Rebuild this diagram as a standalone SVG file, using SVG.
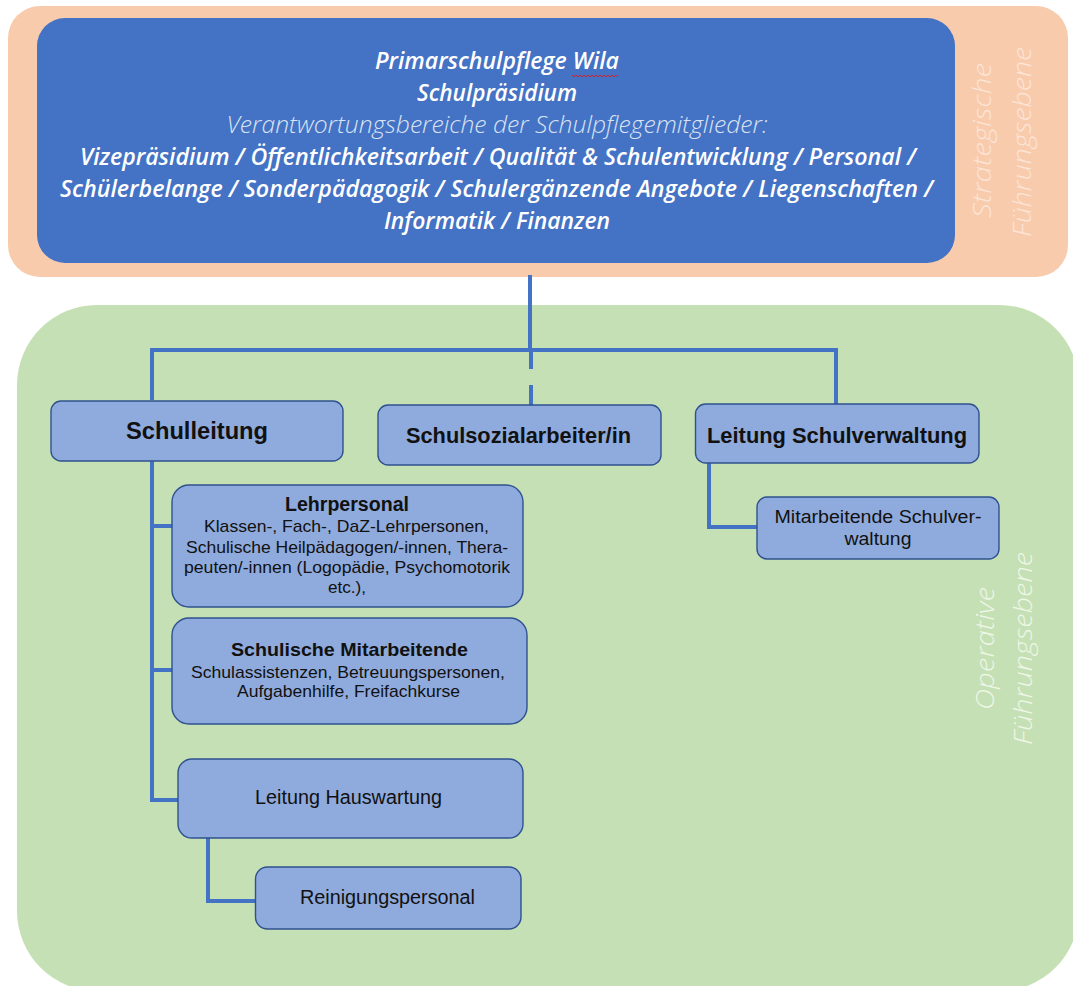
<svg xmlns="http://www.w3.org/2000/svg" width="1073" height="986" viewBox="0 0 1073 986">
<style>
.node rect{fill:#8FAADC;stroke:#2F528F;stroke-width:1.4}
.t{font-family:"Liberation Sans",Arial,sans-serif;fill:#111;text-anchor:middle}
.b{font-weight:bold}
.top{font-family:"Open Sans","Noto Sans",sans-serif;font-style:italic;text-anchor:middle;font-size:23px}
.side{font-family:"Open Sans","Noto Sans",sans-serif;font-style:italic;font-weight:300;font-size:25px;text-anchor:middle}
.conn{fill:none;stroke:#4472C4;stroke-width:4;stroke-linejoin:miter}
</style>
<rect width="1073" height="986" fill="#FFFFFF"/>
<g id="strategic-zone">
<rect x="8" y="6" width="1060" height="271" rx="32" fill="#F8CBAD"/>
<text class="side" fill="#FCE4D6" transform="translate(991,140.5) rotate(-90)" textLength="155" lengthAdjust="spacingAndGlyphs">Strategische</text>
<text class="side" fill="#FCE4D6" transform="translate(1031,142) rotate(-90)" textLength="190" lengthAdjust="spacingAndGlyphs">Führungsebene</text>
</g>
<g id="operative-zone">
<rect x="17" y="305" width="1062" height="686" rx="80" fill="#C5E0B4"/>
<text class="side" fill="#EEF6E8" transform="translate(994,648.5) rotate(-90)" textLength="123" lengthAdjust="spacingAndGlyphs">Operative</text>
<text class="side" fill="#EEF6E8" transform="translate(1032,648.5) rotate(-90)" textLength="193" lengthAdjust="spacingAndGlyphs">Führungsebene</text>
</g>
<g id="connectors">
<path class="conn" d="M530 275 V350"/>
<path class="conn" d="M152 400 V350 H836 V404"/>
<path class="conn" d="M531 350 V369 M531 385 V405"/>
<path class="conn" d="M152 461 V800 H178"/>
<path class="conn" d="M152 526 H172"/>
<path class="conn" d="M152 670 H172"/>
<path class="conn" d="M208 838 V901 H256"/>
<path class="conn" d="M709 463 V527 H757"/>
</g>
<g id="schulpflege">
<rect x="37" y="18" width="918" height="245" rx="28" fill="#4472C4"/>
<text class="top" x="497" y="69" fill="#FFFFFF" font-weight="600" textLength="244" lengthAdjust="spacingAndGlyphs">Primarschulpflege Wila</text>
<path d="M572 75 l2 2 l2 -2 l2 2 l2 -2 l2 2 l2 -2 l2 2 l2 -2 l2 2 l2 -2 l2 2 l2 -2 l2 2 l2 -2 l2 2 l2 -2 l2 2 l2 -2 l2 2 l2 -2 l2 2 l2 -2 l2 2" fill="none" stroke="#D0202A" stroke-width="1"/>
<text class="top" x="497" y="101" fill="#FFFFFF" font-weight="600" textLength="160" lengthAdjust="spacingAndGlyphs">Schulpräsidium</text>
<text class="top" x="497" y="133" fill="#DAE3F3" font-weight="300" textLength="541" lengthAdjust="spacingAndGlyphs">Verantwortungsbereiche der Schulpflegemitglieder:</text>
<text class="top" x="498" y="165" fill="#FFFFFF" font-weight="600" textLength="836" lengthAdjust="spacingAndGlyphs">Vizepräsidium / Öffentlichkeitsarbeit / Qualität &amp; Schulentwicklung / Personal /</text>
<text class="top" x="496.5" y="197" fill="#FFFFFF" font-weight="600" textLength="873" lengthAdjust="spacingAndGlyphs">Schülerbelange / Sonderpädagogik / Schulergänzende Angebote / Liegenschaften /</text>
<text class="top" x="497" y="229" fill="#FFFFFF" font-weight="600" textLength="226" lengthAdjust="spacingAndGlyphs">Informatik / Finanzen</text>
</g>
<g id="schulleitung" class="node">
<rect x="51" y="401" width="292" height="60" rx="10"/>
<text class="t b" x="197" y="439" font-size="23" textLength="142" lengthAdjust="spacingAndGlyphs">Schulleitung</text>
</g>
<g id="schulsozialarbeit" class="node">
<rect x="378" y="405" width="283" height="60" rx="10"/>
<text class="t b" x="518.5" y="443" font-size="22" textLength="225" lengthAdjust="spacingAndGlyphs">Schulsozialarbeiter/in</text>
</g>
<g id="leitung-schulverwaltung" class="node">
<rect x="695.5" y="404" width="283.5" height="59" rx="10"/>
<text class="t b" x="837" y="443" font-size="22" textLength="260" lengthAdjust="spacingAndGlyphs">Leitung Schulverwaltung</text>
</g>
<g id="mitarbeitende-schulverwaltung" class="node">
<rect x="757" y="497" width="242" height="62" rx="10"/>
<text class="t" x="878" y="523" font-size="17.5" textLength="207" lengthAdjust="spacingAndGlyphs">Mitarbeitende Schulver-</text>
<text class="t" x="878" y="545" font-size="17.5" textLength="67" lengthAdjust="spacingAndGlyphs">waltung</text>
</g>
<g id="lehrpersonal" class="node">
<rect x="172" y="485" width="351" height="122" rx="17"/>
<text class="t b" x="347" y="511" font-size="19.5" textLength="124" lengthAdjust="spacingAndGlyphs">Lehrpersonal</text>
<text class="t" x="346.5" y="532" font-size="17" textLength="285" lengthAdjust="spacingAndGlyphs">Klassen-, Fach-, DaZ-Lehrpersonen,</text>
<text class="t" x="347" y="553" font-size="17" textLength="322" lengthAdjust="spacingAndGlyphs">Schulische Heilpädagogen/-innen, Thera-</text>
<text class="t" x="347" y="573" font-size="17" textLength="326" lengthAdjust="spacingAndGlyphs">peuten/-innen (Logopädie, Psychomotorik</text>
<text class="t" x="347" y="593" font-size="17" textLength="38" lengthAdjust="spacingAndGlyphs">etc.),</text>
</g>
<g id="schulische-mitarbeitende" class="node">
<rect x="172" y="618" width="355" height="106" rx="17"/>
<text class="t b" x="349.5" y="656" font-size="19" textLength="237" lengthAdjust="spacingAndGlyphs">Schulische Mitarbeitende</text>
<text class="t" x="348" y="678" font-size="17" textLength="314" lengthAdjust="spacingAndGlyphs">Schulassistenzen, Betreuungspersonen,</text>
<text class="t" x="348.5" y="697" font-size="17" textLength="223" lengthAdjust="spacingAndGlyphs">Aufgabenhilfe, Freifachkurse</text>
</g>
<g id="leitung-hauswartung" class="node">
<rect x="178" y="759" width="345" height="79" rx="14"/>
<text class="t" x="348.5" y="804" font-size="19.5" textLength="187" lengthAdjust="spacingAndGlyphs">Leitung Hauswartung</text>
</g>
<g id="reinigungspersonal" class="node">
<rect x="255.5" y="867" width="265.5" height="62" rx="12"/>
<text class="t" x="387.5" y="904" font-size="19.5" textLength="175" lengthAdjust="spacingAndGlyphs">Reinigungspersonal</text>
</g>
</svg>
